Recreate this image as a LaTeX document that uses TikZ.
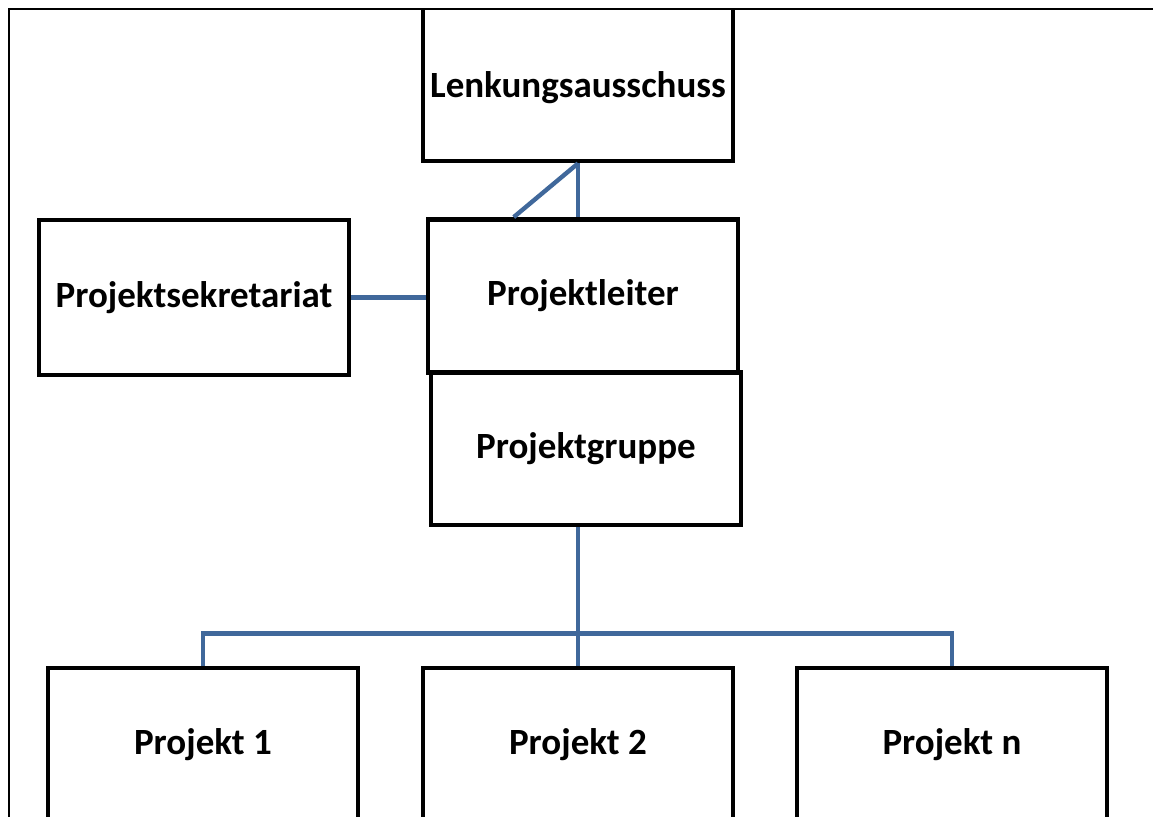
\documentclass[tikz,border=0pt]{standalone}
\usepackage{fontspec}
\setmainfont{Carlito}
\usetikzlibrary{calc}
\definecolor{linkblue}{RGB}{64,104,155}

\begin{document}
\begin{tikzpicture}[x=0.5pt, y=-0.5pt,
    orgbox/.style={draw, line width=2.4pt, inner sep=0pt,
      minimum width=155pt, minimum height=76.5pt,
      font=\fontsize{18.5}{22}\selectfont\bfseries},
    link/.style={draw=linkblue, line width=2.2pt}]
  \useasboundingbox (0,0) rectangle (1153,816);
  \begin{scope}
  \clip (0,9) rectangle (1153,816);
  % boxes
  \node[orgbox, minimum height=84pt] (lenk) at (578, 77)
    {\raisebox{-5.5pt}[\height][\depth]{Lenkungsausschuss}};
  \node[orgbox] (pl) at (583, 296)   {Projektleiter};
  \node[orgbox, minimum height=77.5pt] (ps) at (194, 297.5) {Projektsekretariat};
  \node[orgbox] (pg) at (586, 448.5) {Projektgruppe};
  \node[orgbox] (p1) at (203, 744.5) {Projekt 1};
  \node[orgbox] (p2) at (578, 744.5) {Projekt 2};
  \node[orgbox] (pn) at (952, 744.5) {Projekt n};
  \coordinate (plhook) at ($(pl.north west)!0.28!(pl.north east)$);
  \coordinate (bus) at ($(p2.north)+(0,-32)$);
  % connectors
  \draw[link] (lenk.south) -- (lenk.south |- pl.north);
  \draw[link] (lenk.south) -- (plhook);
  \draw[link] (ps.east) -- (ps.east -| pl.west);
  \draw[link] (pg.south -| p2.north) -- (p2.north);
  \draw[link] (p1.north) |- (bus) -| (pn.north);
  \end{scope}
  % frame
  \draw[line width=0.75pt] (9,830) -- (9,9) -- (1160,9);
\end{tikzpicture}
\end{document}
